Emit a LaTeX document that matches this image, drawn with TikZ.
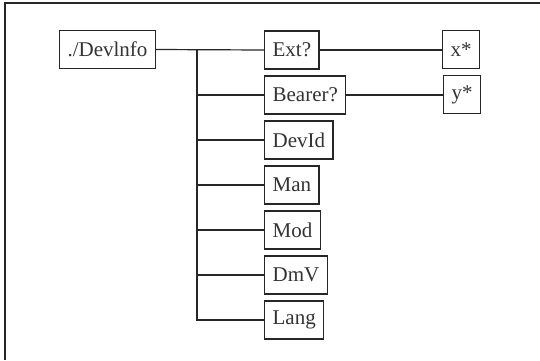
\documentclass[tikz,border=0pt]{standalone}
\usepackage{fontspec}
\setmainfont{Liberation Serif}
\begin{document}
\begin{tikzpicture}[x=0.5pt, y=-0.5pt, font=\fontsize{10.5}{12}\selectfont,
  leaf/.style={draw=black!85, line width=0.6pt, text=black!80, inner xsep=4pt, inner ysep=0pt, minimum height=19pt},
  link/.style={draw=black!85, line width=0.6pt}]
  \useasboundingbox (0,0) rectangle (540,360);

  % frame
  \draw[line width=0.8pt, black!85] (540,3) -- (5,3) -- (5,360);

  % root node
  \node[leaf] (devinfo) at (107.5,49.5) {./Devlnfo};

  % children, one row every 45 units
  \foreach \name/\txt [count=\i from 0] in {ext/Ext?, bearer/Bearer?, devid/DevId, man/Man, mod/Mod, dmv/DmV, lang/Lang}
    \node[leaf, anchor=west] (\name) at (264,50+45*\i) {\txt};

  % leaves of Ext? and Bearer?
  \node[leaf] (xstar) at (461,49.5) {x*};
  \node[leaf] (ystar) at (462,94.5) {y*};

  % tree lines
  \coordinate (bus) at (197,50);
  \draw[link] (devinfo.east) -- (ext.west);
  \draw[link] (bus) |- (lang.west);
  \foreach \name in {bearer,devid,man,mod,dmv}
    \draw[link] (bus |- \name.west) -- (\name.west);
  \draw[link] (ext.east) -- (ext.east -| xstar.west);
  \draw[link] (bearer.east) -- (bearer.east -| ystar.west);
\end{tikzpicture}
\end{document}
